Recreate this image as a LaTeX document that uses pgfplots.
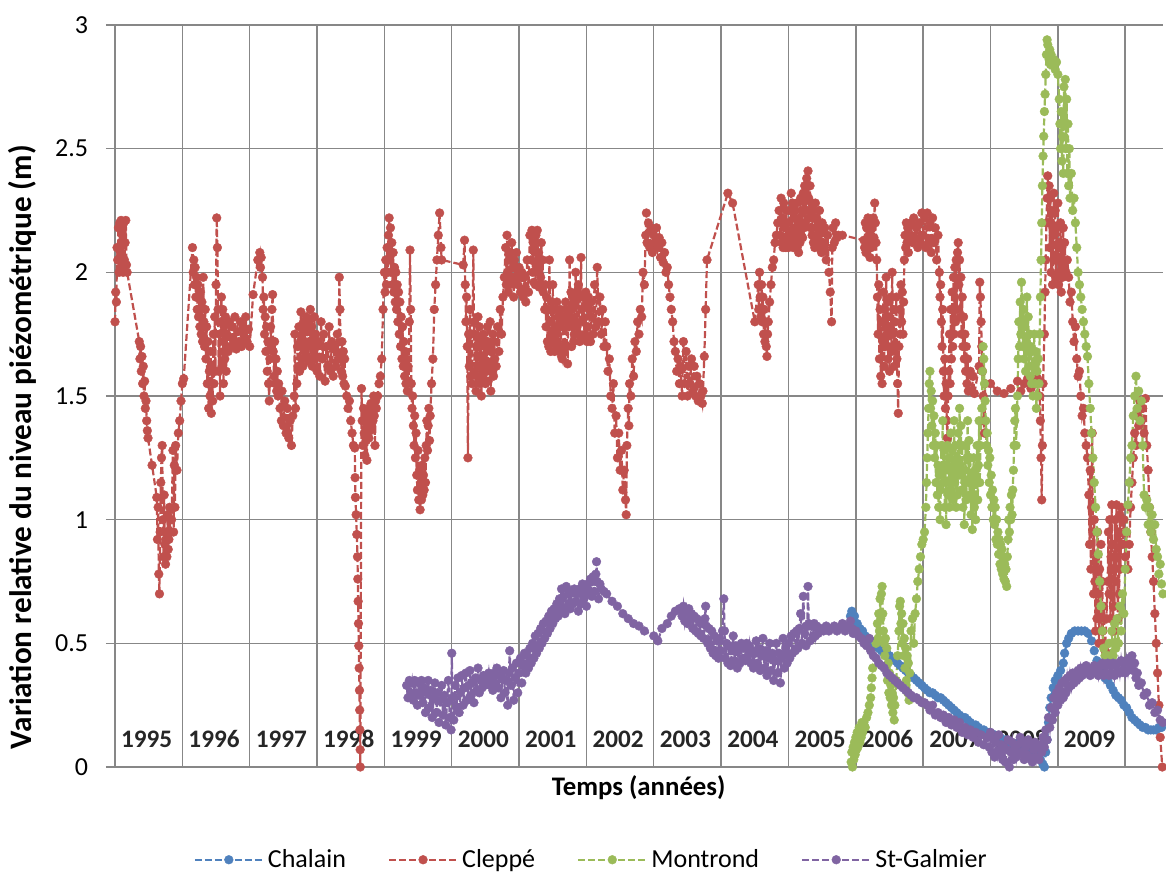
\documentclass[border=0pt]{standalone}
\usepackage{fontspec}
\setmainfont{Carlito}
\usepackage{pgfplots}
\pgfplotsset{compat=1.18}

\definecolor{cBlue}{HTML}{4F81BD}
\definecolor{cRed}{HTML}{C0504D}
\definecolor{cGreen}{HTML}{9BBB59}
\definecolor{cPurple}{HTML}{8064A2}
\definecolor{gridgray}{HTML}{878787}

\pgfplotsset{
  ser/.style={color=#1, mark=*, mark size=2.2pt, line width=1.1pt,
    dash pattern=on 3.5pt off 1.5pt,
    mark options={solid, fill=#1, draw=#1, line width=0.2pt}},
}

\begin{document}
\begin{tikzpicture}
\begin{axis}[
  at={(0,0)}, anchor=south west,
  scale only axis, width=528.5pt, height=371pt,
  xmin=1994.866, xmax=2010.561,
  ymin=0, ymax=3,
  xtick={1995,...,2010}, xticklabels={},
  ytick={0,0.5,...,3},
  grid=major,
  major grid style={draw=gridgray, line width=0.75pt},
  axis line style={draw=gridgray, line width=0.75pt},
  y axis line style={draw=none},
  tick style={draw=none},
  /pgf/number format/assume math mode=true,
  yticklabel style={font=\fontsize{13}{15}\selectfont, inner sep=0pt, anchor=east, xshift=-8.75pt},
  xlabel={Temps (années)},
  xlabel style={at={(axis description cs:0.504,-0.0283)}, anchor=center, font=\bfseries\fontsize{13.4}{16}\selectfont},
  ylabel={Variation relative du niveau piézométrique (m)},
  ylabel style={at={(axis description cs:-0.0795,0.431)}, anchor=center, font=\bfseries\fontsize{15.6}{18}\selectfont},
  legend columns=4,
  legend style={at={(axis description cs:0.46,-0.125)}, anchor=center, draw=none, fill=none,
    font=\fontsize{13}{15}\selectfont,
    /tikz/every even column/.append style={column sep=19pt}},
  legend image code/.code={\draw[mark repeat=2,mark phase=2] plot coordinates {(0pt,0pt)(17pt,0pt)(34pt,0pt)};},
]

\pgfplotsinvokeforeach{1995,...,2009}{
  \node[font=\bfseries\fontsize{12.6}{14}\selectfont, text=black!85] at (axis cs:#1.47,0.113) {#1};
}

% Chalain
\addplot[ser=cBlue] coordinates {
(2005.92,0.61)(2005.94,0.63)(2005.98,0.61)(2006.02,0.58)(2006.06,0.56)(2006.10,0.55)(2006.14,0.53)(2006.18,0.52)(2006.22,0.51)(2006.26,0.50)
(2006.30,0.49)(2006.34,0.48)(2006.38,0.47)(2006.42,0.46)(2006.46,0.46)(2006.50,0.45)(2006.54,0.44)(2006.58,0.43)(2006.62,0.42)(2006.66,0.41)
(2006.70,0.40)(2006.74,0.39)(2006.78,0.38)(2006.82,0.37)(2006.86,0.36)(2006.90,0.35)(2006.94,0.34)(2006.98,0.33)(2007.02,0.32)(2007.06,0.31)
(2007.10,0.30)(2007.14,0.30)(2007.18,0.29)(2007.22,0.28)(2007.26,0.28)(2007.30,0.27)(2007.34,0.26)(2007.38,0.25)(2007.42,0.24)(2007.46,0.23)
(2007.50,0.22)(2007.54,0.21)(2007.58,0.20)(2007.62,0.20)(2007.66,0.19)(2007.70,0.18)(2007.74,0.17)(2007.78,0.17)(2007.82,0.16)(2007.86,0.15)
(2007.90,0.15)(2007.94,0.14)(2007.98,0.14)(2008.02,0.13)(2008.06,0.13)(2008.10,0.12)(2008.14,0.12)(2008.18,0.11)(2008.22,0.11)(2008.26,0.10)
(2008.30,0.10)(2008.34,0.09)(2008.38,0.09)(2008.42,0.10)(2008.46,0.08)(2008.50,0.08)(2008.54,0.08)(2008.58,0.07)(2008.62,0.07)(2008.66,0.07)
(2008.70,0.05)(2008.74,0.03)(2008.78,0.01)(2008.80,0.00)(2008.82,0.06)(2008.84,0.11)(2008.86,0.18)(2008.88,0.24)(2008.90,0.28)(2008.93,0.32)
(2008.96,0.35)(2009.00,0.37)(2009.04,0.39)(2009.08,0.42)(2009.10,0.46)(2009.13,0.50)(2009.16,0.52)(2009.20,0.54)(2009.25,0.55)(2009.30,0.55)
(2009.35,0.55)(2009.40,0.55)(2009.45,0.54)(2009.50,0.51)(2009.54,0.47)(2009.58,0.43)(2009.62,0.40)(2009.66,0.38)(2009.70,0.36)(2009.74,0.35)
(2009.78,0.33)(2009.82,0.31)(2009.86,0.29)(2009.90,0.28)(2009.94,0.27)(2009.98,0.25)(2010.02,0.24)(2010.06,0.22)(2010.10,0.20)(2010.14,0.19)
(2010.18,0.18)(2010.22,0.17)(2010.26,0.16)(2010.30,0.16)(2010.34,0.15)(2010.38,0.15)(2010.42,0.15)(2010.46,0.15)(2010.50,0.16)(2010.54,0.16)
};
\addlegendentry{Chalain}

% Cleppé
\addplot[ser=cRed] coordinates {
(1995.00,1.80)(1995.01,1.92)(1995.02,1.88)(1995.03,2.10)(1995.04,2.05)(1995.05,2.18)(1995.06,2.00)(1995.07,2.20)(1995.08,2.08)(1995.09,2.21)
(1995.10,2.02)(1995.11,2.15)(1995.12,2.00)(1995.13,2.20)(1995.14,2.05)(1995.15,2.12)(1995.16,2.21)(1995.17,2.03)(1995.18,2.00)
(1995.36,1.72)(1995.37,1.65)(1995.38,1.70)(1995.39,1.60)(1995.40,1.66)(1995.41,1.55)(1995.42,1.62)(1995.43,1.50)(1995.44,1.56)(1995.45,1.45)
(1995.46,1.48)(1995.47,1.40)(1995.48,1.36)(1995.49,1.33)(1995.55,1.22)(1995.62,1.09)
(1995.63,0.92)(1995.64,1.05)(1995.65,0.78)(1995.66,0.70)(1995.67,0.95)(1995.68,1.15)(1995.69,1.25)(1995.70,1.30)(1995.71,1.00)(1995.72,0.85)
(1995.73,1.10)(1995.74,0.90)(1995.75,0.82)(1995.76,0.95)(1995.77,0.85)(1995.78,1.02)(1995.79,0.88)(1995.80,0.92)(1995.81,1.05)(1995.82,0.95)
(1995.84,1.00)(1995.86,1.28)(1995.87,0.95)(1995.88,1.22)(1995.89,1.05)(1995.90,1.30)(1995.92,1.20)(1995.94,1.35)(1995.96,1.40)(1995.98,1.48)
(1996.00,1.55)(1996.02,1.57)(1996.15,2.10)
(1996.16,2.00)(1996.17,2.05)(1996.18,1.95)(1996.19,2.02)(1996.20,1.90)(1996.21,1.98)(1996.22,1.85)(1996.23,1.95)(1996.24,1.82)(1996.25,1.90)
(1996.26,1.78)(1996.27,1.92)(1996.28,1.75)(1996.29,1.88)(1996.30,1.72)(1996.31,1.98)(1996.32,1.80)(1996.33,1.70)(1996.34,1.85)(1996.35,1.65)
(1996.36,1.78)(1996.37,1.55)(1996.38,1.72)(1996.39,1.45)(1996.40,1.60)(1996.41,1.50)(1996.42,1.68)(1996.43,1.43)(1996.44,1.62)(1996.45,1.48)
(1996.46,1.75)(1996.47,1.55)(1996.48,1.82)(1996.49,1.60)(1996.50,1.95)(1996.51,2.22)(1996.52,2.10)(1996.53,1.85)(1996.54,1.60)(1996.55,1.75)
(1996.56,1.50)(1996.57,1.80)(1996.58,1.90)(1996.59,1.62)(1996.60,1.85)(1996.61,1.55)(1996.62,1.78)(1996.63,1.65)(1996.64,1.82)(1996.65,1.60)
(1996.66,1.75)(1996.68,1.68)(1996.70,1.80)(1996.72,1.70)(1996.74,1.78)(1996.76,1.72)(1996.78,1.82)(1996.80,1.69)(1996.82,1.76)(1996.84,1.72)
(1996.86,1.80)(1996.88,1.70)(1996.90,1.78)(1996.92,1.74)(1996.94,1.82)(1996.96,1.72)(1996.98,1.77)(1997.00,1.70)
(1997.05,1.91)(1997.12,2.05)(1997.15,2.08)(1997.16,2.02)(1997.17,2.06)
(1997.19,1.98)(1997.20,1.85)(1997.21,1.90)(1997.22,1.75)(1997.23,1.82)(1997.24,1.68)(1997.25,1.78)(1997.26,1.60)(1997.27,1.72)(1997.28,1.55)
(1997.29,1.48)(1997.30,1.65)(1997.31,1.78)(1997.32,1.70)(1997.33,1.85)(1997.34,1.91)(1997.35,1.68)(1997.36,1.58)(1997.37,1.72)(1997.38,1.55)
(1997.39,1.65)(1997.40,1.52)(1997.41,1.60)(1997.42,1.50)(1997.43,1.55)
(1997.45,1.45)(1997.47,1.40)(1997.48,1.52)(1997.50,1.38)(1997.52,1.48)(1997.54,1.35)(1997.56,1.45)(1997.58,1.33)(1997.60,1.40)(1997.62,1.30)
(1997.64,1.42)(1997.66,1.50)(1997.67,1.75)(1997.68,1.45)
(1997.70,1.55)(1997.71,1.70)(1997.72,1.62)(1997.73,1.78)(1997.74,1.60)(1997.75,1.72)(1997.76,1.84)(1997.77,1.65)(1997.78,1.75)(1997.79,1.62)
(1997.80,1.80)(1997.81,1.68)(1997.82,1.78)(1997.83,1.70)(1997.84,1.82)(1997.85,1.66)(1997.86,1.76)(1997.87,1.64)(1997.88,1.80)(1997.89,1.72)
(1997.90,1.85)(1997.91,1.70)(1997.92,1.78)(1997.93,1.62)(1997.94,1.75)(1997.95,1.68)(1997.96,1.82)(1997.97,1.65)(1997.98,1.75)(1998.00,1.60)
(1998.02,1.72)(1998.04,1.58)(1998.06,1.80)(1998.08,1.65)(1998.10,1.75)(1998.12,1.56)(1998.14,1.70)(1998.16,1.62)(1998.18,1.78)(1998.20,1.60)
(1998.22,1.72)(1998.24,1.58)(1998.26,1.70)(1998.28,1.62)(1998.30,1.75)(1998.32,1.65)(1998.33,1.98)(1998.34,1.85)(1998.35,1.65)(1998.36,1.60)
(1998.37,1.72)(1998.38,1.58)(1998.39,1.68)(1998.40,1.55)(1998.41,1.65)(1998.42,1.54)
(1998.44,1.50)(1998.46,1.45)(1998.48,1.48)(1998.50,1.40)(1998.52,1.35)(1998.54,1.30)(1998.56,1.29)(1998.565,1.17)(1998.57,1.09)
(1998.58,1.02)(1998.59,0.94)(1998.60,0.85)(1998.605,0.76)(1998.61,0.67)(1998.615,0.58)(1998.62,0.49)(1998.625,0.40)(1998.63,0.31)
(1998.633,0.23)(1998.636,0.15)(1998.64,0.07)(1998.642,0.00)
(1998.66,1.53)(1998.67,1.40)(1998.68,1.30)(1998.69,1.45)(1998.70,1.35)(1998.71,1.26)(1998.72,1.42)(1998.73,1.32)(1998.74,1.24)(1998.75,1.38)
(1998.76,1.45)(1998.77,1.33)(1998.78,1.42)(1998.79,1.36)(1998.80,1.47)(1998.81,1.38)(1998.82,1.45)(1998.83,1.40)(1998.84,1.50)(1998.85,1.42)
(1998.86,1.30)(1998.87,1.48)(1998.88,1.45)(1998.90,1.50)(1998.92,1.55)(1998.94,1.58)(1998.96,1.65)(1998.98,1.85)
(1999.00,2.00)(1999.01,1.92)(1999.02,2.05)(1999.03,1.95)(1999.04,2.10)(1999.05,2.00)(1999.06,2.15)(1999.07,2.22)(1999.08,2.05)(1999.09,2.18)
(1999.10,2.00)(1999.11,2.12)(1999.12,1.95)(1999.13,2.08)(1999.14,1.92)(1999.15,2.02)(1999.16,1.88)(1999.17,2.00)(1999.18,1.85)(1999.19,1.95)
(1999.20,1.80)(1999.21,1.92)(1999.22,1.75)(1999.23,1.88)(1999.24,1.70)(1999.25,1.82)(1999.26,1.65)(1999.27,1.78)(1999.28,1.62)(1999.29,1.72)
(1999.30,1.58)(1999.31,1.68)(1999.32,1.55)(1999.33,1.65)(1999.34,1.52)(1999.35,1.62)(1999.36,1.56)(1999.37,1.80)(1999.38,2.09)(1999.39,1.85)
(1999.40,1.55)(1999.41,1.45)(1999.42,1.50)(1999.43,1.38)(1999.44,1.30)(1999.45,1.42)(1999.46,1.25)(1999.47,1.35)(1999.48,1.18)(1999.49,1.12)
(1999.50,1.28)(1999.51,1.08)(1999.52,1.20)(1999.53,1.04)(1999.54,1.15)(1999.55,1.08)(1999.56,1.22)(1999.57,1.10)(1999.58,1.18)(1999.59,1.12)
(1999.60,1.25)(1999.61,1.15)(1999.62,1.30)(1999.63,1.40)(1999.64,1.28)(1999.65,1.38)(1999.66,1.45)(1999.67,1.32)(1999.68,1.42)
(1999.70,1.55)(1999.72,1.65)(1999.74,1.85)(1999.76,1.95)(1999.78,2.05)(1999.80,2.15)(1999.82,2.24)(1999.84,2.10)(1999.85,2.05)
(2000.17,2.03)(2000.19,2.13)
(2000.20,1.95)(2000.21,1.80)(2000.22,1.90)(2000.23,1.70)(2000.24,1.25)(2000.25,1.75)(2000.26,1.62)(2000.27,1.85)(2000.28,1.58)(2000.29,1.75)
(2000.30,1.55)(2000.32,2.09)(2000.33,1.80)(2000.34,1.60)(2000.35,1.75)(2000.36,1.52)(2000.37,1.70)(2000.38,1.58)(2000.39,1.82)(2000.40,1.62)
(2000.41,1.78)(2000.42,1.55)(2000.43,1.72)(2000.44,1.50)(2000.45,1.65)(2000.46,1.58)(2000.47,1.75)(2000.48,1.62)(2000.49,1.70)(2000.50,1.55)
(2000.51,1.72)(2000.52,1.60)(2000.53,1.78)(2000.54,1.56)(2000.55,1.70)(2000.56,1.62)(2000.57,1.80)(2000.58,1.52)(2000.59,1.68)(2000.60,1.60)
(2000.61,1.75)(2000.62,1.58)(2000.63,1.72)(2000.64,1.65)(2000.66,1.62)(2000.68,1.78)(2000.70,1.68)
(2000.72,1.85)(2000.74,1.75)(2000.76,1.90)
(2000.78,1.98)(2000.80,2.10)(2000.81,1.95)(2000.82,2.15)(2000.83,2.00)(2000.84,1.92)(2000.85,2.05)(2000.86,1.95)(2000.87,2.08)(2000.88,1.98)
(2000.89,2.12)(2000.90,1.96)(2000.91,2.02)(2000.92,1.90)(2000.93,2.05)(2000.94,1.98)(2000.96,2.08)(2000.98,1.95)(2001.00,2.02)(2001.02,1.92)
(2001.04,2.00)(2001.06,1.90)(2001.08,1.98)(2001.10,1.88)(2001.12,2.05)(2001.14,1.92)
(2001.16,2.15)(2001.18,2.05)(2001.19,2.17)(2001.20,2.00)(2001.21,2.12)(2001.22,1.96)(2001.23,2.10)(2001.24,1.95)(2001.25,2.15)(2001.26,2.02)
(2001.27,2.17)(2001.28,2.00)(2001.29,2.08)(2001.30,1.94)(2001.31,2.05)(2001.32,1.98)(2001.33,2.12)(2001.34,1.95)(2001.35,2.05)(2001.36,1.92)
(2001.38,1.85)(2001.39,1.95)(2001.40,1.78)(2001.41,1.90)(2001.42,1.72)(2001.43,1.85)(2001.44,1.70)(2001.45,2.05)(2001.46,1.80)(2001.47,1.68)
(2001.48,1.88)(2001.49,1.75)(2001.50,1.95)(2001.51,1.72)(2001.52,1.85)(2001.53,1.68)(2001.54,1.78)(2001.55,1.70)(2001.56,1.88)(2001.57,1.72)
(2001.58,1.82)(2001.59,1.70)(2001.60,1.68)(2001.61,1.85)(2001.62,1.78)(2001.63,1.66)(2001.64,1.65)(2001.65,1.82)(2001.66,1.80)(2001.67,1.68)
(2001.68,1.70)(2001.69,1.88)(2001.70,1.85)(2001.71,1.70)(2001.72,1.63)(2001.73,1.82)(2001.74,1.78)(2001.75,2.05)
(2001.76,1.80)(2001.77,1.92)(2001.78,1.70)(2001.79,1.85)(2001.80,1.90)(2001.81,1.72)(2001.82,1.75)(2001.83,1.88)(2001.84,2.00)(2001.85,1.80)
(2001.86,1.78)(2001.87,1.92)(2001.88,1.95)(2001.89,1.75)(2001.90,1.72)(2001.91,1.90)(2001.92,2.06)(2001.93,1.85)(2001.94,1.80)
(2001.96,1.90)(2001.97,1.74)(2001.98,1.75)(2001.99,1.92)(2002.00,1.88)(2002.01,1.72)(2002.02,1.78)(2002.03,1.90)(2002.04,1.85)(2002.05,1.74)
(2002.06,1.72)(2002.07,1.88)(2002.08,1.82)(2002.10,1.75)(2002.12,1.95)(2002.14,1.78)
(2002.16,2.02)(2002.18,1.80)(2002.20,1.90)(2002.22,1.75)(2002.24,1.85)(2002.26,1.70)
(2002.28,1.80)(2002.30,1.70)(2002.32,1.60)(2002.34,1.65)(2002.36,1.50)(2002.38,1.45)(2002.40,1.55)(2002.42,1.35)(2002.44,1.42)(2002.46,1.25)
(2002.48,1.35)(2002.50,1.20)(2002.52,1.28)(2002.54,1.12)(2002.56,1.20)(2002.58,1.08)(2002.59,1.02)
(2002.60,1.30)(2002.62,1.45)(2002.63,1.38)(2002.64,1.55)(2002.66,1.50)(2002.68,1.65)(2002.70,1.58)(2002.72,1.72)(2002.74,1.68)(2002.76,1.80)
(2002.78,1.75)(2002.80,1.85)(2002.82,1.82)(2002.84,2.00)(2002.86,1.95)
(2002.88,2.15)(2002.89,2.24)(2002.90,2.12)(2002.92,2.20)(2002.94,2.10)(2002.96,2.18)(2002.98,2.08)(2003.00,2.15)(2003.02,2.12)(2003.04,2.18)
(2003.06,2.10)(2003.08,2.14)(2003.10,2.06)(2003.12,2.12)(2003.14,2.04)(2003.16,2.08)(2003.18,2.00)(2003.20,2.02)
(2003.22,1.95)(2003.24,1.90)(2003.26,1.85)(2003.28,1.80)(2003.30,1.72)(2003.32,1.68)(2003.34,1.60)(2003.36,1.65)(2003.38,1.55)(2003.40,1.62)
(2003.42,1.50)(2003.44,1.72)(2003.46,1.55)(2003.48,1.68)(2003.50,1.50)(2003.52,1.62)(2003.54,1.55)(2003.56,1.65)(2003.58,1.52)(2003.60,1.62)
(2003.62,1.50)(2003.64,1.58)(2003.66,1.48)(2003.68,1.55)(2003.70,1.50)(2003.72,1.47)(2003.73,1.52)
(2003.75,1.66)(2003.77,1.85)(2003.79,2.05)(2004.10,2.32)(2004.17,2.28)(2004.50,1.80)
(2004.55,1.95)(2004.56,1.85)(2004.57,2.00)(2004.58,1.90)(2004.59,1.82)(2004.60,1.95)(2004.61,1.80)(2004.62,1.90)(2004.63,1.75)(2004.64,1.85)
(2004.65,1.72)(2004.66,1.80)(2004.67,1.70)(2004.68,1.66)(2004.69,1.75)(2004.70,1.80)
(2004.72,1.88)(2004.74,1.95)(2004.76,2.02)(2004.78,2.05)(2004.80,2.12)(2004.82,2.15)(2004.84,2.20)(2004.86,2.25)
(2004.88,2.15)(2004.89,2.30)(2004.90,2.12)(2004.91,2.22)(2004.92,2.10)(2004.93,2.28)(2004.94,2.14)(2004.95,2.20)(2004.96,2.10)(2004.97,2.25)
(2004.98,2.12)(2004.99,2.20)(2005.00,2.10)(2005.02,2.25)(2005.03,2.12)(2005.04,2.32)(2005.05,2.15)(2005.06,2.28)(2005.07,2.10)(2005.08,2.22)
(2005.09,2.12)(2005.10,2.25)(2005.11,2.15)(2005.12,2.28)(2005.13,2.10)(2005.14,2.20)(2005.15,2.08)(2005.16,2.22)(2005.17,2.12)(2005.18,2.30)
(2005.19,2.15)(2005.20,2.25)(2005.21,2.14)(2005.22,2.32)(2005.23,2.18)(2005.24,2.35)(2005.25,2.20)(2005.26,2.30)(2005.27,2.38)(2005.28,2.25)
(2005.29,2.41)(2005.30,2.30)(2005.31,2.22)(2005.32,2.35)(2005.33,2.18)(2005.34,2.28)(2005.35,2.15)(2005.36,2.25)(2005.37,2.12)(2005.38,2.22)
(2005.39,2.10)(2005.40,2.28)(2005.41,2.15)(2005.42,2.22)(2005.43,2.12)(2005.44,2.20)(2005.45,2.10)(2005.46,2.25)(2005.47,2.12)(2005.48,2.18)
(2005.49,2.08)(2005.50,2.20)(2005.52,2.10)(2005.54,2.18)(2005.56,2.05)(2005.58,2.15)(2005.60,2.00)(2005.62,1.92)(2005.64,1.80)(2005.65,2.10)
(2005.66,2.18)(2005.68,2.12)(2005.70,2.20)(2005.72,2.14)(2005.74,2.15)(2005.80,2.15)(2006.12,2.13)
(2006.13,2.10)(2006.14,2.20)(2006.15,2.08)(2006.16,2.18)(2006.17,2.10)(2006.18,2.22)(2006.19,2.12)(2006.20,2.15)(2006.21,2.06)(2006.22,2.18)
(2006.23,2.10)(2006.24,2.20)(2006.25,2.12)(2006.26,2.22)(2006.27,2.14)(2006.28,2.28)(2006.29,2.20)(2006.30,2.12)(2006.31,2.05)
(2006.32,1.90)(2006.33,1.75)(2006.34,1.95)(2006.35,1.65)(2006.36,1.85)(2006.37,1.58)(2006.38,1.80)(2006.39,1.55)(2006.40,1.72)(2006.41,1.92)
(2006.42,1.62)(2006.43,1.85)(2006.44,1.70)(2006.45,1.98)(2006.46,1.75)(2006.47,1.88)(2006.48,1.65)(2006.49,1.82)(2006.50,1.60)(2006.51,1.78)
(2006.52,1.90)(2006.53,1.68)(2006.54,2.00)(2006.55,1.75)(2006.56,1.85)(2006.57,1.62)(2006.58,1.80)(2006.59,1.70)(2006.60,1.90)(2006.61,1.65)
(2006.62,1.55)(2006.63,1.43)(2006.64,1.70)(2006.65,1.85)(2006.66,1.75)(2006.67,1.95)(2006.68,1.80)(2006.69,1.92)(2006.70,1.75)(2006.71,1.88)
(2006.72,2.05)(2006.73,2.15)(2006.74,2.10)(2006.75,2.20)(2006.76,2.12)(2006.77,2.18)(2006.78,2.08)(2006.80,2.15)(2006.82,2.20)(2006.84,2.12)
(2006.86,2.22)(2006.88,2.14)(2006.90,2.18)(2006.92,2.10)(2006.94,2.20)(2006.96,2.12)(2006.98,2.24)(2007.00,2.15)(2007.02,2.22)(2007.04,2.10)
(2007.06,2.24)(2007.08,2.12)(2007.10,2.20)(2007.12,2.08)(2007.14,2.22)(2007.16,2.12)(2007.18,2.18)(2007.20,2.05)(2007.22,2.15)
(2007.24,2.00)(2007.25,1.90)(2007.26,1.95)(2007.27,1.80)(2007.28,1.70)(2007.29,1.85)(2007.30,1.60)(2007.31,1.50)(2007.32,1.65)(2007.33,1.45)
(2007.34,1.55)(2007.35,1.40)(2007.36,1.33)(2007.37,1.50)
(2007.38,1.60)(2007.39,1.75)(2007.40,1.55)(2007.41,1.85)(2007.42,1.65)(2007.43,1.92)(2007.44,1.70)(2007.45,1.98)(2007.46,1.75)(2007.47,2.02)
(2007.48,1.80)(2007.49,2.05)(2007.50,1.85)(2007.51,2.08)(2007.52,2.12)(2007.53,1.95)(2007.54,2.05)(2007.55,1.82)(2007.56,1.98)(2007.57,1.75)
(2007.58,1.90)(2007.59,1.70)(2007.60,1.82)(2007.61,1.65)(2007.62,1.75)(2007.63,1.60)(2007.64,1.70)(2007.65,1.55)(2007.66,1.65)(2007.67,1.52)
(2007.70,1.60)(2007.72,1.52)(2007.74,1.58)(2007.76,1.51)
(2007.83,1.62)(2007.84,1.96)(2007.85,1.90)(2007.86,1.80)(2007.87,1.70)(2007.88,1.60)(2007.89,1.50)(2007.90,1.40)(2007.91,1.35)(2007.92,1.55)
(2008.00,1.55)(2008.10,1.52)(2008.20,1.51)(2008.30,1.53)(2008.40,1.56)(2008.45,1.52)(2008.50,1.55)(2008.55,1.57)(2008.60,1.53)(2008.65,1.55)
(2008.70,1.57)(2008.73,1.50)(2008.74,1.40)(2008.75,1.25)(2008.76,1.08)(2008.77,1.30)(2008.78,1.55)
(2008.80,1.75)(2008.81,1.92)(2008.82,2.05)(2008.83,2.20)(2008.84,2.30)(2008.85,2.39)
(2008.86,2.20)(2008.87,2.35)(2008.88,2.10)(2008.89,2.30)(2008.90,2.00)(2008.91,2.25)(2008.92,1.95)(2008.93,2.15)(2008.94,2.32)(2008.95,2.05)
(2008.96,2.25)(2008.97,1.98)(2008.98,2.18)(2008.99,2.05)(2009.00,2.28)(2009.01,1.95)(2009.02,2.12)(2009.03,2.00)(2009.04,2.20)(2009.05,1.92)
(2009.06,2.10)(2009.07,1.98)(2009.08,2.18)(2009.09,2.02)(2009.10,2.12)(2009.12,2.00)(2009.14,2.05)
(2009.16,1.98)(2009.18,1.88)(2009.20,1.92)(2009.22,1.80)(2009.24,1.72)(2009.26,1.78)(2009.28,1.65)(2009.30,1.58)(2009.32,1.60)(2009.34,1.50)
(2009.36,1.42)(2009.38,1.45)(2009.40,1.35)(2009.42,1.30)(2009.44,1.25)
(2009.46,1.10)(2009.47,0.90)(2009.48,1.20)(2009.49,0.80)(2009.50,1.05)(2009.51,1.35)(2009.52,0.95)(2009.53,0.70)(2009.54,1.00)(2009.55,0.75)
(2009.56,0.55)(2009.57,0.85)(2009.58,0.60)(2009.59,0.95)(2009.60,0.70)(2009.61,0.50)(2009.62,0.80)(2009.63,0.60)(2009.64,0.90)(2009.65,0.55)
(2009.66,0.75)(2009.67,0.50)(2009.68,0.65)(2009.70,0.47)(2009.72,0.60)
(2009.74,0.75)(2009.75,0.95)(2009.76,0.70)(2009.77,1.00)(2009.78,0.60)(2009.79,0.85)(2009.80,1.06)(2009.81,0.80)(2009.82,0.55)(2009.83,0.90)
(2009.84,0.65)(2009.85,1.00)(2009.86,0.75)(2009.87,1.06)(2009.88,0.85)(2009.89,0.60)(2009.90,0.95)(2009.91,0.70)(2009.92,1.02)(2009.93,0.80)
(2009.94,1.05)(2009.96,0.90)(2009.98,1.00)(2010.00,0.85)(2010.02,0.95)(2010.04,0.80)
(2010.06,0.90)(2010.08,1.05)(2010.10,1.15)(2010.12,1.25)(2010.14,1.35)(2010.16,1.30)(2010.18,1.42)(2010.20,1.38)(2010.22,1.48)(2010.24,1.40)
(2010.26,1.45)(2010.28,1.35)(2010.30,1.49)(2010.32,1.30)(2010.34,1.20)
(2010.36,1.05)(2010.38,0.95)(2010.40,0.85)(2010.42,0.75)(2010.44,0.62)(2010.46,0.50)(2010.48,0.38)(2010.50,0.25)(2010.52,0.12)(2010.55,0.00)
};
\addlegendentry{Cleppé}

% Montrond
\addplot[ser=cGreen] coordinates {
(2005.93,0.02)(2005.94,0.06)(2005.95,0.00)(2005.96,0.08)(2005.97,0.03)(2005.98,0.10)(2005.99,0.05)(2006.00,0.12)(2006.01,0.07)(2006.02,0.14)
(2006.03,0.08)(2006.04,0.12)(2006.05,0.16)(2006.06,0.10)(2006.07,0.15)(2006.08,0.12)(2006.09,0.18)(2006.10,0.14)(2006.12,0.18)(2006.14,0.16)
(2006.16,0.20)(2006.18,0.22)(2006.20,0.25)(2006.22,0.28)(2006.23,0.32)(2006.24,0.36)(2006.25,0.40)
(2006.30,0.50)(2006.32,0.58)(2006.33,0.52)(2006.34,0.62)(2006.35,0.55)(2006.36,0.68)(2006.37,0.60)(2006.38,0.70)(2006.39,0.73)(2006.40,0.62)
(2006.41,0.55)(2006.42,0.50)(2006.43,0.45)(2006.44,0.52)(2006.45,0.40)(2006.46,0.48)(2006.47,0.35)(2006.48,0.42)(2006.49,0.30)(2006.50,0.38)
(2006.51,0.28)(2006.52,0.33)(2006.53,0.25)(2006.54,0.30)(2006.55,0.22)(2006.56,0.28)(2006.57,0.19)(2006.58,0.25)
(2006.60,0.35)(2006.62,0.45)(2006.64,0.55)(2006.65,0.65)(2006.66,0.67)(2006.67,0.58)(2006.68,0.62)(2006.69,0.50)(2006.70,0.58)(2006.71,0.45)
(2006.72,0.52)(2006.73,0.40)(2006.74,0.48)(2006.75,0.35)(2006.76,0.45)(2006.77,0.30)(2006.78,0.42)(2006.79,0.27)(2006.80,0.38)
(2006.82,0.55)(2006.84,0.60)(2006.86,0.50)(2006.88,0.62)(2006.90,0.68)(2006.92,0.75)(2006.94,0.80)(2006.96,0.85)(2006.98,0.90)(2007.00,0.92)
(2007.02,0.95)(2007.04,1.05)(2007.05,1.15)(2007.06,1.25)(2007.07,1.35)(2007.08,1.45)(2007.09,1.55)(2007.10,1.60)(2007.11,1.45)(2007.12,1.52)
(2007.13,1.38)(2007.14,1.48)(2007.15,1.30)(2007.16,1.42)(2007.17,1.25)(2007.18,1.35)(2007.19,1.15)(2007.20,1.30)(2007.21,1.10)(2007.22,1.22)
(2007.23,1.05)(2007.24,1.18)(2007.25,1.00)(2007.26,1.12)(2007.27,1.30)(2007.28,1.20)(2007.29,1.40)(2007.30,1.15)(2007.31,1.28)(2007.32,1.05)
(2007.33,1.22)(2007.34,0.98)(2007.35,1.15)(2007.36,1.30)(2007.37,1.10)(2007.38,1.25)(2007.39,1.05)(2007.40,1.20)(2007.41,1.35)(2007.42,1.12)
(2007.43,1.28)(2007.44,1.08)(2007.45,1.22)(2007.46,1.40)(2007.47,1.15)(2007.48,1.30)(2007.49,1.05)(2007.50,1.25)(2007.51,1.10)(2007.52,1.35)
(2007.53,1.18)(2007.54,1.45)(2007.55,1.22)(2007.56,1.38)(2007.57,1.12)(2007.58,1.30)(2007.59,1.05)(2007.60,1.20)(2007.61,0.98)(2007.62,1.15)
(2007.63,1.30)(2007.64,1.08)(2007.65,1.25)(2007.66,1.40)(2007.67,1.15)(2007.68,1.32)(2007.69,1.10)(2007.70,1.25)(2007.71,1.02)(2007.72,1.18)
(2007.73,0.96)(2007.74,1.10)(2007.75,1.25)(2007.76,1.05)(2007.77,1.20)(2007.78,1.00)(2007.79,1.15)(2007.80,1.30)(2007.81,1.08)(2007.82,1.22)
(2007.83,1.40)(2007.84,1.15)(2007.85,1.30)(2007.87,1.45)(2007.88,1.60)(2007.89,1.70)(2007.90,1.65)(2007.91,1.55)(2007.92,1.48)(2007.93,1.40)
(2007.94,1.30)(2007.95,1.35)(2007.96,1.22)(2007.97,1.28)(2007.98,1.15)(2007.99,1.25)(2008.00,1.10)(2008.01,1.18)(2008.02,1.05)(2008.03,1.12)
(2008.04,1.00)(2008.05,1.08)(2008.06,0.98)(2008.07,1.05)(2008.08,0.92)(2008.09,1.00)(2008.10,0.90)(2008.11,0.95)(2008.12,0.86)(2008.13,0.92)
(2008.14,0.82)(2008.15,0.90)(2008.16,0.80)(2008.17,0.88)(2008.18,0.78)(2008.19,0.85)(2008.20,0.76)(2008.21,0.82)(2008.22,0.75)(2008.23,0.80)
(2008.24,0.73)(2008.25,0.85)(2008.26,0.92)(2008.27,1.00)(2008.28,0.95)(2008.29,1.05)(2008.30,1.00)(2008.31,1.10)(2008.32,1.02)(2008.33,1.12)
(2008.34,1.20)(2008.35,1.30)(2008.36,1.40)(2008.37,1.45)(2008.38,1.30)(2008.40,1.50)(2008.41,1.65)(2008.42,1.80)(2008.43,1.70)(2008.44,1.88)
(2008.45,1.75)(2008.46,1.96)(2008.47,1.80)(2008.48,1.70)(2008.49,1.85)(2008.50,1.65)(2008.51,1.78)(2008.52,1.60)(2008.53,1.72)(2008.54,1.90)
(2008.55,1.68)(2008.56,1.82)(2008.57,1.62)(2008.58,1.75)(2008.59,1.58)(2008.60,1.70)(2008.61,1.55)(2008.62,1.68)(2008.63,1.50)(2008.64,1.62)
(2008.65,1.75)(2008.66,1.55)(2008.67,1.68)(2008.68,1.45)(2008.69,1.60)(2008.70,1.50)(2008.71,1.65)(2008.72,1.55)(2008.73,1.75)(2008.74,1.90)
(2008.75,2.05)(2008.76,2.20)(2008.77,2.35)(2008.78,2.47)(2008.79,2.55)(2008.80,2.65)(2008.81,2.72)(2008.82,2.80)(2008.83,2.88)(2008.84,2.94)
(2008.85,2.92)(2008.86,2.88)(2008.87,2.86)(2008.88,2.90)(2008.89,2.84)(2008.90,2.88)(2008.92,2.84)(2008.94,2.86)(2008.96,2.82)(2008.98,2.85)
(2009.00,2.80)(2009.02,2.70)(2009.03,2.60)(2009.04,2.50)(2009.05,2.65)(2009.06,2.45)(2009.07,2.55)(2009.08,2.40)(2009.09,2.75)(2009.10,2.60)
(2009.11,2.78)(2009.12,2.50)(2009.13,2.70)(2009.14,2.40)(2009.15,2.60)(2009.16,2.35)(2009.17,2.50)(2009.18,2.30)(2009.20,2.40)(2009.22,2.25)
(2009.24,2.30)(2009.26,2.20)(2009.28,2.10)(2009.30,2.00)(2009.32,1.95)(2009.34,1.90)(2009.36,1.85)(2009.38,1.80)(2009.40,1.75)(2009.42,1.70)
(2009.44,1.66)(2009.46,1.55)(2009.48,1.45)(2009.50,1.35)(2009.52,1.25)(2009.54,1.15)(2009.56,1.05)(2009.58,0.95)(2009.60,0.86)(2009.62,0.75)
(2009.64,0.65)(2009.66,0.55)(2009.68,0.48)(2009.70,0.45)(2009.72,0.43)(2009.74,0.45)(2009.76,0.50)(2009.78,0.42)(2009.80,0.55)(2009.82,0.45)
(2009.84,0.58)(2009.86,0.48)(2009.88,0.60)(2009.90,0.50)(2009.92,0.65)(2009.94,0.55)(2009.96,0.70)(2009.98,0.62)(2010.00,0.80)(2010.02,0.95)
(2010.04,1.06)(2010.06,1.15)(2010.08,1.25)(2010.10,1.30)(2010.12,1.42)(2010.14,1.50)(2010.16,1.58)(2010.18,1.45)(2010.20,1.52)(2010.22,1.40)
(2010.24,1.48)(2010.26,1.30)(2010.28,1.10)(2010.30,1.05)(2010.32,1.08)(2010.34,0.98)(2010.36,1.05)(2010.38,0.95)(2010.40,1.02)(2010.42,0.92)
(2010.44,0.98)(2010.46,0.88)(2010.48,0.85)(2010.50,0.78)(2010.52,0.82)(2010.54,0.74)(2010.56,0.70)
};
\addlegendentry{Montrond}

% St-Galmier
\addplot[ser=cPurple] coordinates {
(1999.33,0.33)(1999.35,0.28)(1999.37,0.35)(1999.39,0.30)(1999.41,0.34)(1999.43,0.27)(1999.45,0.35)(1999.47,0.30)(1999.49,0.25)(1999.51,0.34)
(1999.53,0.29)(1999.55,0.35)(1999.57,0.26)(1999.59,0.32)(1999.61,0.22)(1999.63,0.30)(1999.65,0.35)(1999.67,0.24)(1999.69,0.31)(1999.71,0.20)
(1999.73,0.28)(1999.75,0.34)(1999.77,0.22)(1999.79,0.30)(1999.81,0.18)(1999.83,0.27)(1999.85,0.33)(1999.87,0.21)(1999.89,0.29)(1999.91,0.17)
(1999.93,0.26)(1999.95,0.35)(1999.97,0.20)(1999.99,0.15)(2000.00,0.46)(2000.01,0.28)(2000.03,0.19)(2000.05,0.33)(2000.07,0.24)(2000.09,0.36)
(2000.11,0.22)(2000.13,0.30)(2000.15,0.37)(2000.17,0.25)(2000.19,0.32)(2000.21,0.38)(2000.23,0.27)(2000.25,0.33)(2000.27,0.39)(2000.29,0.29)
(2000.31,0.34)(2000.33,0.26)(2000.35,0.36)(2000.37,0.31)(2000.39,0.40)(2000.41,0.30)(2000.43,0.35)(2000.45,0.32)(2000.47,0.37)(2000.49,0.33)
(2000.51,0.36)(2000.53,0.34)(2000.55,0.38)(2000.57,0.33)(2000.59,0.36)(2000.61,0.31)(2000.63,0.38)(2000.65,0.34)(2000.67,0.40)(2000.69,0.32)
(2000.71,0.37)(2000.73,0.28)(2000.75,0.36)(2000.77,0.39)(2000.79,0.30)(2000.81,0.35)(2000.83,0.25)(2000.85,0.38)(2000.86,0.47)(2000.88,0.33)
(2000.90,0.40)(2000.92,0.27)(2000.94,0.36)(2000.96,0.42)(2000.98,0.30)(2001.00,0.38)(2001.02,0.44)(2001.04,0.34)(2001.06,0.41)(2001.08,0.46)
(2001.10,0.38)(2001.12,0.45)(2001.14,0.40)(2001.16,0.48)(2001.18,0.42)(2001.20,0.50)(2001.22,0.44)(2001.24,0.53)(2001.26,0.46)(2001.28,0.54)
(2001.30,0.48)(2001.32,0.56)(2001.34,0.50)(2001.36,0.58)(2001.38,0.52)(2001.40,0.59)(2001.42,0.54)(2001.44,0.61)(2001.46,0.56)(2001.48,0.63)
(2001.50,0.58)(2001.52,0.64)(2001.54,0.60)(2001.56,0.66)(2001.58,0.61)(2001.60,0.68)(2001.62,0.63)(2001.63,0.72)(2001.64,0.64)(2001.66,0.69)
(2001.68,0.62)(2001.70,0.73)(2001.72,0.65)(2001.74,0.70)(2001.76,0.64)(2001.78,0.71)(2001.80,0.66)(2001.82,0.72)(2001.84,0.67)(2001.86,0.70)
(2001.88,0.63)(2001.90,0.72)(2001.92,0.66)(2001.94,0.74)(2001.96,0.68)(2001.98,0.72)(2002.00,0.65)(2002.02,0.74)(2002.04,0.70)(2002.06,0.76)
(2002.08,0.69)(2002.10,0.77)(2002.12,0.71)(2002.14,0.78)(2002.15,0.83)(2002.16,0.75)(2002.18,0.68)(2002.20,0.74)(2002.22,0.72)(2002.26,0.71)
(2002.30,0.70)(2002.38,0.67)(2002.46,0.65)(2002.54,0.62)(2002.62,0.60)(2002.70,0.58)(2002.78,0.57)(2002.86,0.55)(2003.00,0.53)(2003.06,0.51)
(2003.12,0.56)(2003.20,0.58)(2003.26,0.61)(2003.32,0.63)(2003.38,0.64)(2003.42,0.61)(2003.44,0.65)(2003.46,0.59)(2003.48,0.63)(2003.50,0.58)
(2003.52,0.64)(2003.54,0.60)(2003.56,0.62)(2003.58,0.56)(2003.60,0.61)(2003.62,0.55)(2003.64,0.60)(2003.66,0.54)(2003.68,0.59)(2003.70,0.53)
(2003.72,0.58)(2003.74,0.52)(2003.76,0.60)(2003.77,0.65)(2003.78,0.57)(2003.80,0.50)(2003.82,0.56)(2003.84,0.48)(2003.86,0.55)(2003.88,0.46)
(2003.90,0.53)(2003.92,0.45)(2003.94,0.51)(2003.96,0.44)(2003.98,0.52)(2004.00,0.47)(2004.02,0.55)(2004.04,0.68)(2004.05,0.55)(2004.06,0.44)
(2004.08,0.50)(2004.10,0.42)(2004.12,0.49)(2004.14,0.41)(2004.16,0.47)(2004.18,0.53)(2004.20,0.43)(2004.22,0.49)(2004.24,0.40)(2004.26,0.47)
(2004.28,0.42)(2004.30,0.50)(2004.32,0.44)(2004.34,0.48)(2004.36,0.43)(2004.38,0.50)(2004.40,0.45)(2004.42,0.49)(2004.44,0.42)(2004.46,0.47)
(2004.48,0.40)(2004.50,0.46)(2004.52,0.51)(2004.54,0.42)(2004.56,0.48)(2004.58,0.39)(2004.60,0.45)(2004.62,0.52)(2004.64,0.40)(2004.66,0.47)
(2004.68,0.37)(2004.70,0.44)(2004.72,0.50)(2004.74,0.39)(2004.76,0.46)(2004.78,0.35)(2004.80,0.43)(2004.82,0.50)(2004.84,0.38)(2004.86,0.46)
(2004.88,0.34)(2004.90,0.44)(2004.92,0.52)(2004.94,0.40)(2004.96,0.48)(2004.98,0.42)(2005.00,0.50)(2005.02,0.44)(2005.04,0.53)(2005.06,0.46)
(2005.08,0.54)(2005.10,0.47)(2005.12,0.55)(2005.14,0.48)(2005.16,0.56)(2005.18,0.62)(2005.20,0.50)(2005.22,0.69)(2005.24,0.54)(2005.26,0.49)
(2005.28,0.57)(2005.29,0.73)(2005.30,0.58)(2005.32,0.51)(2005.34,0.57)(2005.36,0.52)(2005.38,0.58)(2005.40,0.53)(2005.42,0.57)(2005.44,0.54)
(2005.48,0.56)(2005.52,0.55)(2005.56,0.57)(2005.60,0.55)(2005.64,0.56)(2005.68,0.57)(2005.72,0.55)(2005.76,0.56)(2005.80,0.58)(2005.84,0.55)
(2005.88,0.57)(2005.92,0.59)(2005.94,0.56)(2005.96,0.54)(2006.00,0.55)(2006.04,0.53)(2006.08,0.52)(2006.12,0.50)(2006.16,0.49)(2006.20,0.52)
(2006.22,0.47)(2006.26,0.45)(2006.30,0.44)(2006.34,0.42)(2006.38,0.41)(2006.42,0.40)(2006.46,0.38)(2006.50,0.37)(2006.54,0.36)(2006.58,0.35)
(2006.62,0.34)(2006.66,0.33)(2006.70,0.32)(2006.74,0.31)(2006.78,0.30)(2006.82,0.29)(2006.86,0.28)(2006.90,0.28)(2006.94,0.27)(2006.98,0.26)
(2007.02,0.26)(2007.06,0.25)(2007.10,0.23)(2007.14,0.25)(2007.18,0.21)(2007.22,0.22)(2007.26,0.20)(2007.30,0.21)(2007.34,0.18)(2007.38,0.20)
(2007.42,0.17)(2007.46,0.19)(2007.50,0.16)(2007.54,0.18)(2007.58,0.14)(2007.62,0.16)(2007.66,0.13)(2007.70,0.15)(2007.74,0.12)(2007.78,0.14)
(2007.82,0.10)(2007.86,0.13)(2007.90,0.09)(2007.94,0.12)(2007.98,0.08)(2008.00,0.14)(2008.02,0.06)(2008.04,0.11)(2008.06,0.04)(2008.08,0.10)
(2008.10,0.06)(2008.12,0.13)(2008.14,0.05)(2008.16,0.09)(2008.18,0.03)(2008.20,0.08)(2008.22,0.02)(2008.24,0.07)(2008.26,0.11)(2008.28,0.00)
(2008.30,0.06)(2008.32,0.10)(2008.34,0.03)(2008.36,0.08)(2008.38,0.04)(2008.40,0.09)(2008.42,0.05)(2008.44,0.12)(2008.46,0.06)(2008.48,0.10)
(2008.50,0.03)(2008.52,0.08)(2008.54,0.05)(2008.56,0.11)(2008.58,0.04)(2008.60,0.09)(2008.62,0.02)(2008.64,0.07)(2008.66,0.10)(2008.68,0.04)
(2008.70,0.08)(2008.72,0.03)(2008.74,0.09)(2008.76,0.06)(2008.78,0.12)(2008.80,0.08)(2008.82,0.15)(2008.84,0.11)(2008.86,0.20)(2008.88,0.16)
(2008.90,0.24)(2008.92,0.19)(2008.94,0.28)(2008.96,0.22)(2008.98,0.30)(2009.00,0.25)(2009.02,0.32)(2009.04,0.27)(2009.06,0.34)(2009.08,0.28)
(2009.10,0.35)(2009.12,0.30)(2009.14,0.36)(2009.16,0.32)(2009.18,0.37)(2009.20,0.33)(2009.22,0.38)(2009.24,0.34)(2009.26,0.38)(2009.28,0.35)
(2009.30,0.39)(2009.32,0.36)(2009.34,0.40)(2009.36,0.37)(2009.38,0.40)(2009.40,0.38)(2009.42,0.41)(2009.44,0.38)(2009.46,0.40)(2009.48,0.37)
(2009.50,0.39)(2009.52,0.38)(2009.54,0.41)(2009.56,0.38)(2009.58,0.40)(2009.60,0.37)(2009.62,0.41)(2009.64,0.38)(2009.66,0.42)(2009.68,0.37)
(2009.70,0.41)(2009.72,0.38)(2009.74,0.42)(2009.76,0.37)(2009.78,0.41)(2009.80,0.38)(2009.82,0.42)(2009.84,0.37)(2009.86,0.41)(2009.88,0.38)
(2009.90,0.42)(2009.92,0.38)(2009.94,0.43)(2009.96,0.39)(2009.98,0.42)(2010.00,0.38)(2010.02,0.43)(2010.04,0.39)(2010.06,0.44)(2010.08,0.40)
(2010.10,0.45)(2010.12,0.39)(2010.14,0.42)(2010.16,0.36)(2010.18,0.38)(2010.20,0.33)(2010.24,0.34)(2010.28,0.29)(2010.32,0.30)(2010.36,0.25)
(2010.40,0.26)(2010.44,0.22)(2010.48,0.23)(2010.52,0.19)(2010.56,0.18)
};
\addlegendentry{St-Galmier}

\end{axis}
\pgfresetboundingbox
\path (-53pt,-53pt) rectangle (530pt,383.5pt);
\end{tikzpicture}
\end{document}
